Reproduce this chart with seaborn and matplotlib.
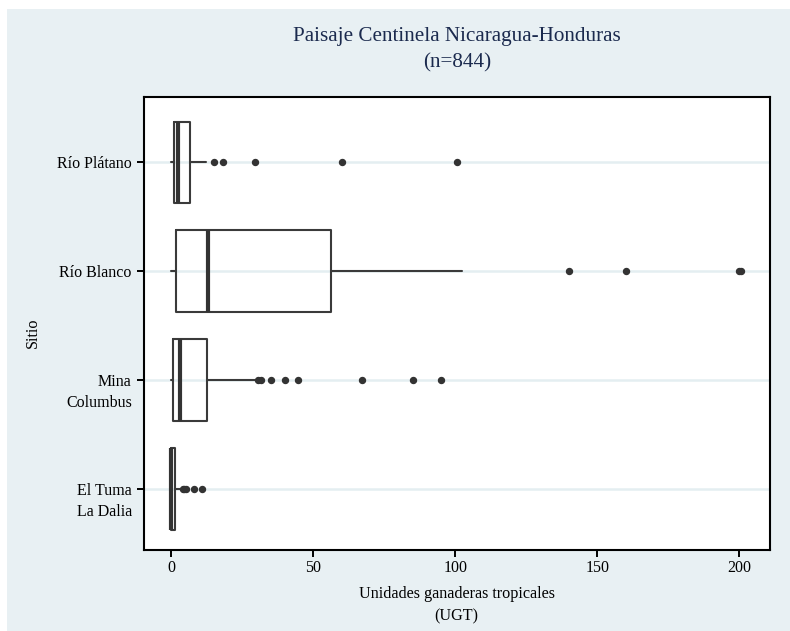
import matplotlib.pyplot as plt
import seaborn as sns
from matplotlib.patches import Rectangle
from matplotlib.transforms import ScaledTranslation

# Valores (UGT por sitio)
sitios = ['Río Plátano', 'Río Blanco', 'Mina\nColumbus', 'El Tuma\nLa Dalia']
bigote_inf = [0, 0, 0, 0]
q1 = [0.9, 1.65, 0.7, 0]
mediana = [2.5, 12.9, 3.1, 0]
q3 = [6.6, 56.2, 12.7, 1.3]
bigote_sup = [12.1, 102.3, 29.5, 3.0]
atipicos = [
    [15.1, 18.1, 29.5, 60, 100.6],
    [140, 160, 200, 200.5],
    [30.5, 31.5, 35, 40, 44.5, 67, 85, 95],
    [4, 4.5, 5.3, 8.1, 10.9],
]

sns.set_theme(style='white')
plt.rcParams['font.family'] = ['Liberation Serif', 'DejaVu Serif']

fig = plt.figure(figsize=(7.9, 6.31), dpi=100)
fig.patch.set_facecolor('white')
fig.add_artist(Rectangle((7 / 790, 0), 1, 1 - 9 / 631, transform=fig.transFigure,
                         facecolor='#e8f0f3', edgecolor='none', zorder=-10))

ax = fig.add_axes([143.6 / 790, 1 - 550 / 631, (769.8 - 143.6) / 790, (550 - 97) / 631])
ax.set_facecolor('white')

stats = []
for i in range(len(sitios)):
    stats.append({'label': sitios[i], 'whislo': bigote_inf[i], 'q1': q1[i], 'med': mediana[i],
                  'q3': q3[i], 'whishi': bigote_sup[i], 'fliers': atipicos[i]})

gris = '#3a3a3a'
ax.bxp(stats, positions=range(len(sitios)), widths=0.75, orientation='horizontal',
       showcaps=False,
       boxprops=dict(color=gris, linewidth=1.5),
       whiskerprops=dict(color=gris, linewidth=1.5),
       medianprops=dict(color='#333333', linewidth=3.0),
       flierprops=dict(marker='o', markerfacecolor='#333333', markeredgecolor='#333333',
                       markersize=4.3))

ax.set_xlim(-9.75, 210.7)
ax.set_ylim(3.56, -0.6)
ax.set_xticks([0, 50, 100, 150, 200])
ax.set_yticks(range(len(sitios)))

# first line at the tick, second line underneath (Stata style)
primeras = [s.split('\n')[0] for s in sitios]
ax.set_yticklabels(primeras)
off = ScaledTranslation(-8.5 / 72, -16.8 / 72, fig.dpi_scale_trans)
for i, s in enumerate(sitios):
    partes = s.split('\n')
    if len(partes) > 1:
        ax.text(0, i, partes[1], transform=ax.get_yaxis_transform() + off,
                ha='right', va='center', fontsize=11.5, color='black')

ax.yaxis.grid(True, color='#e4eef1', linewidth=1.8)
ax.xaxis.grid(False)
ax.set_axisbelow(True)

for s in ax.spines.values():
    s.set_color('black')
    s.set_linewidth(1.5)
ax.tick_params(axis='both', direction='out', length=5, width=1.4, color='black',
               labelsize=11.5, labelcolor='black', left=True, bottom=True)
ax.tick_params(axis='x', pad=2)

navy = '#1b2a4e'
cx = (143.6 + 769.8) / 2 / 790
fig.text(cx, 1 - 37 / 631, 'Paisaje Centinela Nicaragua-Honduras', ha='center', va='center',
         fontsize=15.2, color=navy)
fig.text(cx, 1 - 63 / 631, '(n=844)', ha='center', va='center', fontsize=15.2, color=navy)

fig.text(cx, 1 - 594 / 631, 'Unidades ganaderas tropicales', ha='center', va='center',
         fontsize=11.6, color='black')
fig.text(cx, 1 - 616 / 631, '(UGT)', ha='center', va='center', fontsize=11.6, color='black')
fig.text(33 / 790, 1 - 333 / 631, 'Sitio', ha='center', va='center', rotation=90,
         fontsize=11.6, color='black')

fig.savefig('out.png', dpi=100, facecolor=fig.get_facecolor())
